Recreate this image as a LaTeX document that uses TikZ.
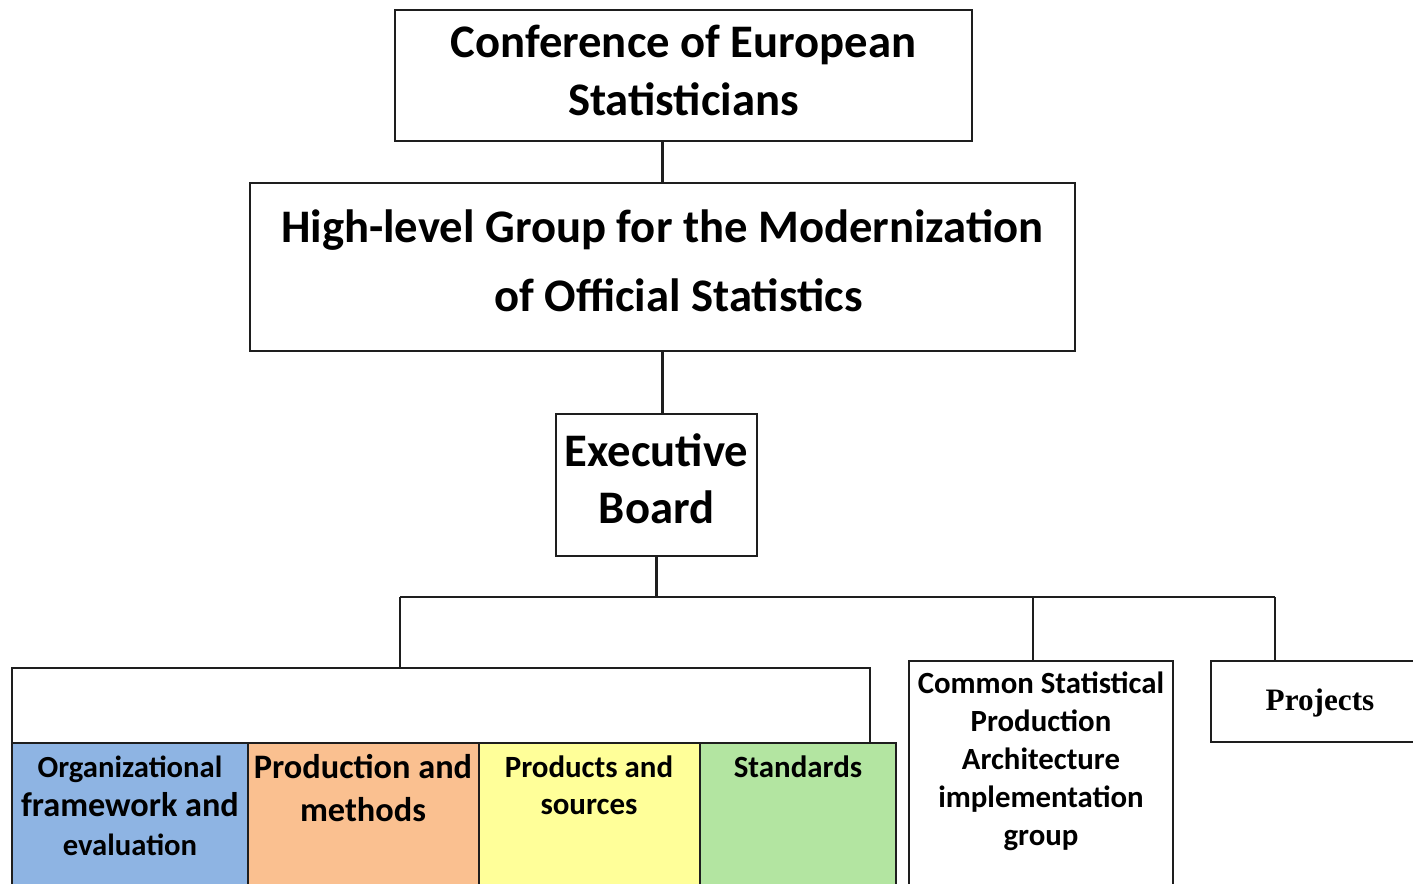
\documentclass[tikz,border=0pt]{standalone}
\usepackage{fontspec}
\setmainfont{Carlito}
\newfontfamily\serifbold{Liberation Serif}
\newdimen\px \px=0.75pt
\definecolor{cblue}{RGB}{142,180,227}
\definecolor{corange}{RGB}{250,192,144}
\definecolor{cyellow}{RGB}{255,255,153}
\definecolor{cgreen}{RGB}{179,229,161}
\definecolor{cline}{RGB}{30,30,30}
\tikzset{
  box/.style={draw=cline, line width=1.5pt, inner sep=0pt, outer sep=0pt},
  conn/.style={draw=cline, line width=2.2pt},
  lbl/.style={inner sep=0pt, align=center},
}
\begin{document}
\begin{tikzpicture}[x=0.75pt, y=-0.75pt]
\useasboundingbox (0,0) rectangle (1413,884);
\clip (0,0) rectangle (1413,884);
\fill[white] (0,0) rectangle (1413,884);
% top boxes
\node[box, minimum width=577\px, minimum height=131\px] (conf) at (683.5,75.5) {};
\node[box, minimum width=825\px, minimum height=168\px] (hlg) at (662.5,267) {};
\node[box, minimum width=201\px, minimum height=142\px] (eb) at (656.5,485) {};
% lower boxes
\node[box, fill=white, minimum width=858\px, minimum height=75\px] (wb) at (441,705.5) {};
\node[box, fill=cblue, minimum width=236\px, minimum height=200\px] (org) at (130,843) {};
\node[box, fill=corange, minimum width=231\px, minimum height=200\px] (prod) at (363.5,843) {};
\node[box, fill=cyellow, minimum width=221\px, minimum height=200\px] (pas) at (589.5,843) {};
\node[box, fill=cgreen, minimum width=196\px, minimum height=200\px] (std) at (798,843) {};
\node[box, minimum width=264\px, minimum height=260\px] (cspa) at (1041,791) {};
\node[box, minimum width=215\px, minimum height=81\px] (proj) at (1318.5,701.5) {};
% labels
\node[lbl, font=\bfseries\fontsize{35}{43.5}\selectfont] (tconf) at (683.5,70) {Conference of European\\Statisticians};
\node[lbl, font=\bfseries\fontsize{35}{51.75}\selectfont] (thlg) at (662.5,260.5) {High-level Group for the Modernization\\\hspace*{24pt}of Official Statistics};
\node[lbl, font=\bfseries\fontsize{35}{42.75}\selectfont] (teb) at (656.5,478.5) {Executive\\Board};
\node[lbl, font=\bfseries\fontsize{23}{29.25}\selectfont] (torg) at (130,806) {Organizational\\{\fontsize{25.7}{29.25}\selectfont framework and}\\evaluation};
\node[lbl, font=\bfseries\fontsize{25.75}{32.25}\selectfont] (tprod) at (363,788.5) {Production and\\methods};
\node[lbl, font=\bfseries\fontsize{23.2}{27.75}\selectfont] (tpas) at (589,785.5) {Products and\\sources};
\node[lbl, font=\bfseries\fontsize{23.2}{28}\selectfont] (tstd) at (798,767) {Standards};
\node[lbl, font=\bfseries\fontsize{23.1}{28.5}\selectfont] (tcspa) at (1041,761) {Common Statistical\\Production\\Architecture\\implementation\\group};
\node[lbl, font=\serifbold\bfseries\fontsize{23.4}{28}\selectfont] (tproj) at (1320,703) {Projects};
% connectors
\coordinate (j1) at (400,597);
\coordinate (j2) at (1033,597);
\coordinate (j3) at (1275,597);
\draw[conn] (hlg.north |- conf.south) -- (hlg.north);
\draw[conn] (hlg.south) -- (hlg.south |- eb.north);
\draw[conn] (eb.south) -- (eb.south |- j1);
\draw[conn] (j1) -- (j3);
\draw[conn] (j1) -- (j1 |- wb.north);
\draw[conn] (j2) -- (j2 |- cspa.north);
\draw[conn] (j3) -- (j3 |- proj.north);
\end{tikzpicture}
\end{document}
